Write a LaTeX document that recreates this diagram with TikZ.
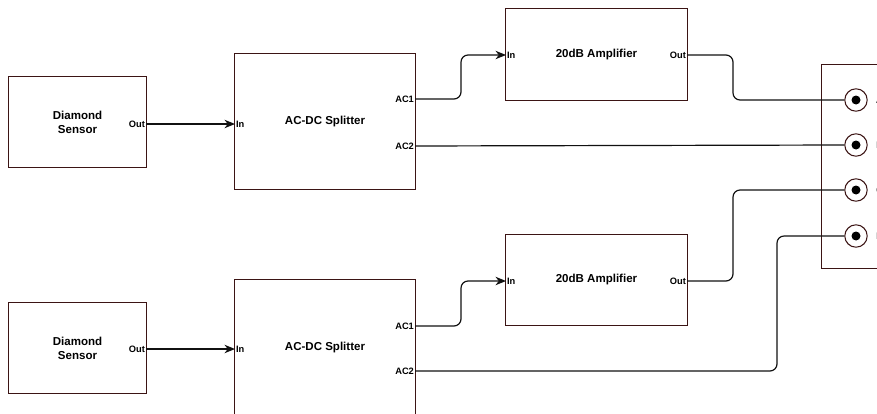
\documentclass[tikz,border=0pt]{standalone}
\usepackage{fontspec}
\setmainfont{Liberation Sans}
\usetikzlibrary{arrows.meta, positioning, calc}
\definecolor{edge}{HTML}{3B1414}
\definecolor{wire}{HTML}{111111}
\definecolor{lettergray}{HTML}{333333}

\begin{document}
\begin{tikzpicture}[x=0.025cm, y=-0.025cm,
  box/.style={draw=edge, line width=0.7pt, fill=white, inner sep=0pt, align=center, font=\bfseries\fontsize{8.2}{9.8}\selectfont},
  sensbox/.style={box, minimum width=3.425cm, minimum height=2.25cm},
  splitbox/.style={box, minimum width=4.5cm, minimum height=3.375cm},
  ampbox/.style={box, minimum width=4.525cm, minimum height=2.275cm},
  port/.style={inner sep=0.6pt, font=\bfseries\fontsize{6.6}{7.5}\selectfont},
  jack/.style={circle, draw=edge, line width=0.75pt, fill=white, minimum size=0.56cm, inner sep=0pt},
  wire/.style={draw=wire, line width=0.85pt, rounded corners=5pt},
  feed/.style={wire, -{Stealth[length=7.5pt, width=6pt]}}
]
\useasboundingbox (0,0) rectangle (877,414);
\clip (0,0) rectangle (877,414);

% sensors, splitters, amplifiers
\node[sensbox] (sensA) at (77.5,122) {Diamond\\Sensor};
\node[sensbox] (sensB) at (77.5,348) {Diamond\\Sensor};
\node[splitbox] (splitA) at (325,121.5) {AC-DC Splitter};
\node[splitbox] (splitB) at (325,347.5) {AC-DC Splitter};
\node[ampbox] (ampA) at (596.5,54.5) {20dB Amplifier};
\node[ampbox] (ampB) at (596.5,280) {20dB Amplifier};

% output panel
\node[draw=edge, line width=0.7pt, minimum width=2.75cm, minimum height=5.075cm] (panel) at (877,166.5) {};
\foreach \j/\y/\l in {A/100/A, B/145/B, C/190/C, D/236/D} {
  \node[jack] (jack\j) at (856,\y) {};
  \fill (jack\j) circle (4.5);
  \node[anchor=west, text=lettergray, font=\fontsize{6.8}{7.5}\selectfont] at ([xshift=2.5pt]jack\j.east) {\l};
}

% port labels
\node[port, anchor=east] (sensAout) at (146,124) {Out};
\node[port, anchor=east] (sensBout) at (146,349) {Out};
\node[port, anchor=west] (splitAin) at (235,124) {In};
\node[port, anchor=west] (splitBin) at (235,349) {In};
\node[port, anchor=east] (splitAac1) at (415,99) {AC1};
\node[port, anchor=east] (splitAac2) at (415,146) {AC2};
\node[port, anchor=east] (splitBac1) at (415,326) {AC1};
\node[port, anchor=east] (splitBac2) at (415,371) {AC2};
\node[port, anchor=west] (ampAin) at (506,55) {In};
\node[port, anchor=west] (ampBin) at (506,281) {In};
\node[port, anchor=east] (ampAout) at (687,55) {Out};
\node[port, anchor=east] (ampBout) at (687,281) {Out};

% connections
\draw[feed] (sensAout.east) -- (splitAin.west);
\draw[feed] (sensBout.east) -- (splitBin.west);
\draw[feed] (splitAac1.east) -- ++(46,0) |- (ampAin.west);
\draw[feed] (splitBac1.east) -- ++(46,0) |- (ampBin.west);
\draw[wire] (ampAout.east) -- ++(46,0) |- (jackA.west);
\draw[wire] (splitAac2.east) -- (jackB.west);
\draw[wire] (ampBout.east) -- ++(46,0) |- (jackC.west);
\draw[wire] (splitBac2.east) -- ++(362,0) |- (jackD.west);
\end{tikzpicture}
\end{document}
